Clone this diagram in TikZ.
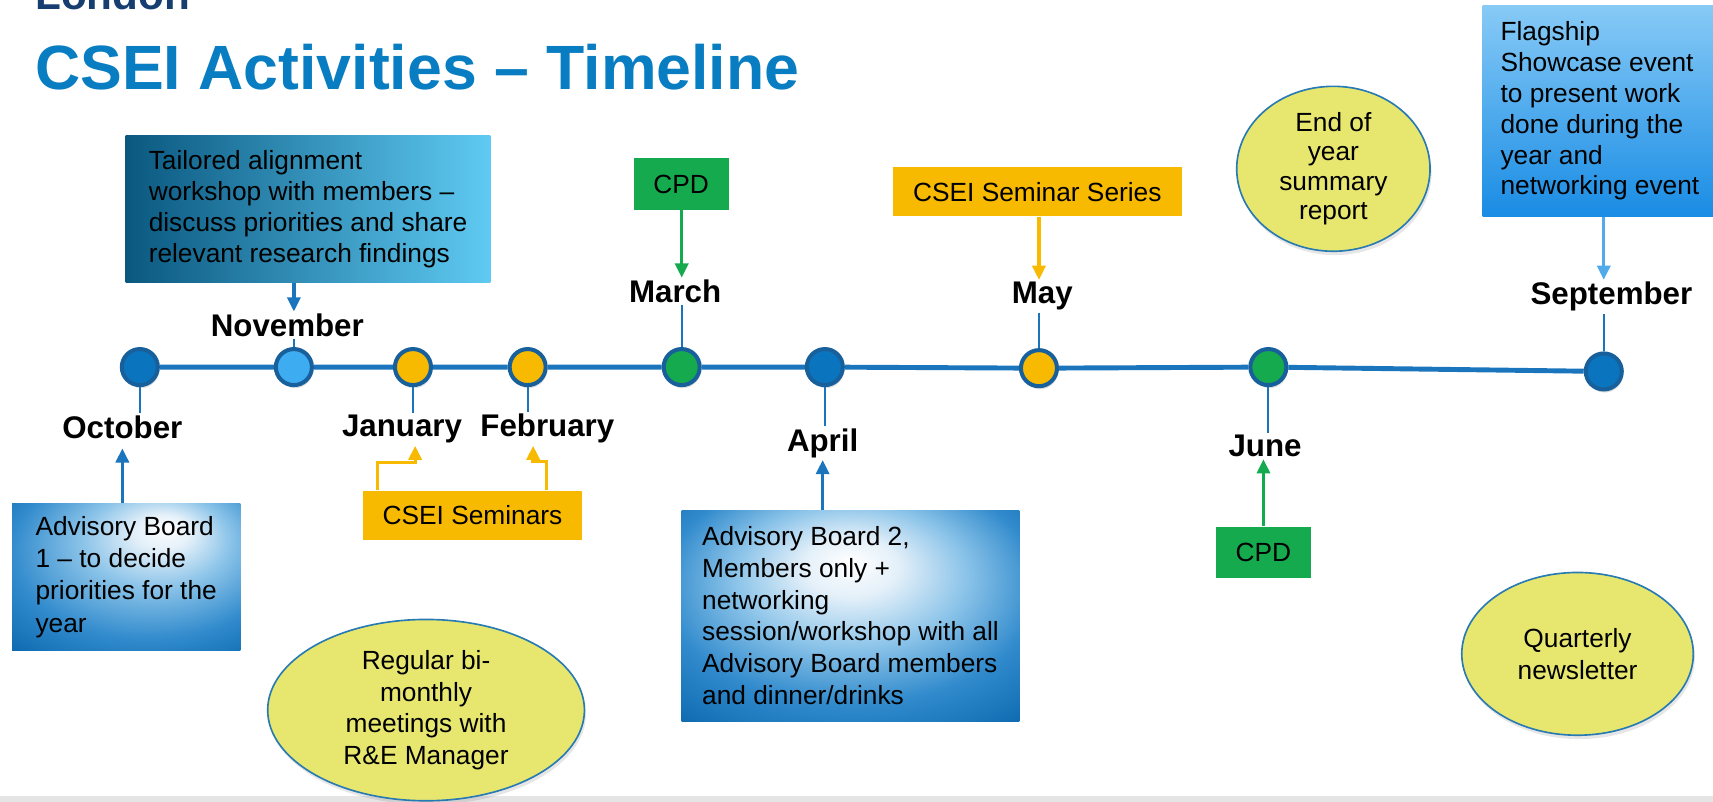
\documentclass[tikz,border=0pt]{standalone}
\usepackage{fontspec}
\setmainfont{Liberation Sans}
\usepackage{tikz}
\usetikzlibrary{positioning, arrows.meta, calc, shapes.geometric, shadows, backgrounds}
\usepackage{xcolor}
\definecolor{title-blue}{RGB}{9,125,194}
\definecolor{london-blue}{RGB}{22,62,112}
\definecolor{line-blue}{RGB}{27,117,188}
\definecolor{dot-edge}{RGB}{24,96,155}
\definecolor{dot-blue}{RGB}{10,117,190}
\definecolor{dot-sky}{RGB}{62,172,240}
\definecolor{csei-amber}{RGB}{248,186,0}
\definecolor{csei-green}{RGB}{22,170,78}
\definecolor{bubble-fill}{RGB}{231,231,112}
\definecolor{bubble-edge}{RGB}{40,122,178}
\definecolor{tailor-dark}{RGB}{10,88,128}
\definecolor{tailor-light}{RGB}{95,202,242}
\definecolor{flag-top}{RGB}{135,202,246}
\definecolor{flag-bottom}{RGB}{25,140,228}
\definecolor{flag-arrow}{RGB}{80,170,235}
\definecolor{board-pale}{RGB}{228,240,249}
\definecolor{board-light}{RGB}{140,196,233}
\definecolor{board-mid}{RGB}{48,138,204}
\definecolor{board-blue}{RGB}{12,104,174}
\pgfdeclareradialshading{board-glow-a}{\pgfpoint{9bp}{17bp}}{color(0bp)=(white); color(6bp)=(board-pale); color(16bp)=(board-light); color(30bp)=(board-mid); color(42bp)=(board-blue); color(60bp)=(board-blue)}
\pgfdeclareradialshading{board-glow-b}{\pgfpoint{0bp}{13bp}}{color(0bp)=(white); color(7bp)=(board-pale); color(17bp)=(board-light); color(28bp)=(board-mid); color(40bp)=(board-blue); color(60bp)=(board-blue)}

\begin{document}
\begin{tikzpicture}[x=0.02cm, y=-0.02cm,
    monthlab/.style={font=\fontsize{16.3}{19}\selectfont\bfseries, inner sep=1pt, anchor=base},
    mdot/.style={circle, minimum size=0.66cm, inner sep=0pt, line width=0.074cm, draw=dot-edge,
      drop shadow={shadow xshift=0.6pt, shadow yshift=-1.6pt, opacity=0.25}},
    note/.style={font=\fontsize{13.7}{16.3}\selectfont, align=left, inner sep=0pt},
    tag/.style={font=\fontsize{13.7}{16.3}\selectfont, inner sep=0pt},
    bubble/.style={ellipse, draw=bubble-edge, line width=0.03cm, fill=bubble-fill, align=center,
      font=\fontsize{13.7}{16.5}\selectfont, inner sep=-0.2cm,
      drop shadow={shadow xshift=0.8pt, shadow yshift=-2pt, opacity=0.2}},
    stem/.style={line width=0.04cm, line-blue},
    arr/.style={line width=0.06cm, -{Triangle[length=0.26cm, width=0.24cm]}}]
  \useasboundingbox (0,0) rectangle (1568,734);
  \fill[black!10] (0,729) rectangle (1568,734);

  \node[anchor=base west, inner sep=0pt, text=london-blue, font=\fontsize{22}{24}\selectfont\bfseries] (london) at (32,9) {London};
  \node[anchor=base west, inner sep=0pt, text=title-blue, font=\fontsize{32.6}{36}\selectfont\bfseries] (title) at (32,82) {CSEI Activities – Timeline};

  % timeline
  \node[mdot, fill=dot-blue] (oct) at (128,336) {};
  \node[mdot, fill=dot-sky] (nov) at (269,336) {};
  \node[mdot, fill=csei-amber] (jan) at (378,336) {};
  \node[mdot, fill=csei-amber] (feb) at (483,336) {};
  \node[mdot, fill=csei-green] (mar) at (624,336) {};
  \node[mdot, fill=dot-blue] (apr) at (755,336) {};
  \node[mdot, fill=csei-amber] (may) at (951,337) {};
  \node[mdot, fill=csei-green] (jun) at (1161,336) {};
  \node[mdot, fill=dot-blue] (sep) at (1468,340) {};
  \begin{scope}[on background layer]
    \draw[line width=0.09cm, line-blue] (oct) -- (nov) -- (jan) -- (feb) -- (mar) -- (apr) -- (may) -- (jun) -- (sep);
  \end{scope}

  \node[monthlab] (oct-lab) at (112,401) {October};
  \node[monthlab] (nov-lab) at (263,308) {November};
  \node[monthlab] (jan-lab) at (368,400) {January};
  \node[monthlab] (feb-lab) at (501,400) {February};
  \node[monthlab] (mar-lab) at (618,277) {March};
  \node[monthlab] (apr-lab) at (753,413) {April};
  \node[monthlab] (may-lab) at (954,278) {May};
  \node[monthlab] (jun-lab) at (1158,418) {June};
  \node[monthlab] (sep-lab) at (1475,279) {September};

  \draw[stem] (oct) -- (oct |- oct-lab.north);
  \draw[stem] (nov-lab.south -| nov) -- (nov);
  \draw[stem] (jan) -- (jan |- jan-lab.north);
  \draw[stem] (feb) -- (feb |- feb-lab.north);
  \draw[stem] (mar-lab.south -| mar) -- (mar);
  \draw[stem] (apr) -- (apr |- apr-lab.north);
  \draw[stem] (may-lab.south -| may) -- (may);
  \draw[stem] (jun) -- (jun |- jun-lab.north);
  \draw[stem] (sep-lab.south -| sep) -- (sep);

  % events
  \node[note, shade, left color=tailor-dark, right color=tailor-light, minimum width=6.68cm, minimum height=2.7cm] (tailored) at (282,191.5)
    {Tailored alignment\\workshop with members –\\discuss priorities and share\\relevant research findings};
  \node[note, shade, shading=board-glow-a, minimum width=4.18cm, minimum height=2.68cm, font=\fontsize{13.7}{16.8}\selectfont] (board1) at (115.5,528)
    {Advisory Board\\1 – to decide\\priorities for the\\year};
  \node[tag, fill=csei-amber, minimum width=4.02cm, minimum height=0.9cm] (seminars) at (432.5,471.5) {CSEI Seminars};
  \node[tag, fill=csei-green, minimum width=1.74cm, minimum height=0.94cm] (cpd1) at (623.5,168.5) {CPD};
  \node[tag, fill=csei-amber, minimum width=5.3cm, minimum height=0.9cm] (series) at (949.5,175.5) {CSEI Seminar Series};
  \node[note, shade, top color=flag-top, bottom color=flag-bottom, minimum width=4.3cm, minimum height=3.86cm, font=\fontsize{13.7}{16.1}\selectfont] (flagship) at (1464.5,101.5)
    {Flagship\\Showcase event\\to present work\\done during the\\year and\\networking event};
  \node[note, shade, shading=board-glow-b, minimum width=6.18cm, minimum height=3.86cm, font=\fontsize{13.7}{16.5}\selectfont] (board2) at (778.5,563.5)
    {Advisory Board 2,\\Members only +\\networking\\session/workshop with all\\Advisory Board members\\and dinner/drinks};
  \node[tag, fill=csei-green, minimum width=1.74cm, minimum height=0.94cm] (cpd2) at (1156.5,505.5) {CPD};

  \node[bubble, minimum width=3.54cm, minimum height=3.02cm, font=\fontsize{13.7}{15.4}\selectfont] (endyear) at (1220.5,154.5) {End of\\year\\summary\\report};
  \node[bubble, minimum width=5.8cm, minimum height=3.32cm] (regular) at (390,650)
    {Regular bi-\\monthly\\meetings with\\R\&E Manager};
  \node[bubble, minimum width=4.24cm, minimum height=2.98cm] (newsletter) at (1444,598.5) {Quarterly\\newsletter};

  % arrows to the months
  \draw[arr, line-blue] (tailored.south -| nov) -- (nov-lab.north -| nov);
  \draw[arr, line-blue, shorten >=0.14cm] (board1.north -| oct-lab) -- (oct-lab.south);
  \draw[arr, csei-green] (cpd1.south -| mar) -- (mar-lab.north -| mar);
  \draw[arr, csei-amber] (series.south -| may) -- (may-lab.north -| may);
  \draw[arr, flag-arrow] (flagship.south -| sep) -- (sep-lab.north -| sep);
  \draw[arr, line-blue] (board2.north -| apr-lab) -- (apr-lab.south);
  \draw[arr, csei-green] (cpd2.north) -- (cpd2.north |- jun-lab.south);
  \draw[arr, csei-amber] ($(seminars.north west)+(14,0)$) -- ++(0,-25) -| ($(jan-lab.south)+(12,0)$);
  \draw[arr, csei-amber] ($(seminars.north east)+(-33,0)$) -- ++(0,-26) -| ($(feb-lab.south)+(-13,0)$);
\end{tikzpicture}
\end{document}
